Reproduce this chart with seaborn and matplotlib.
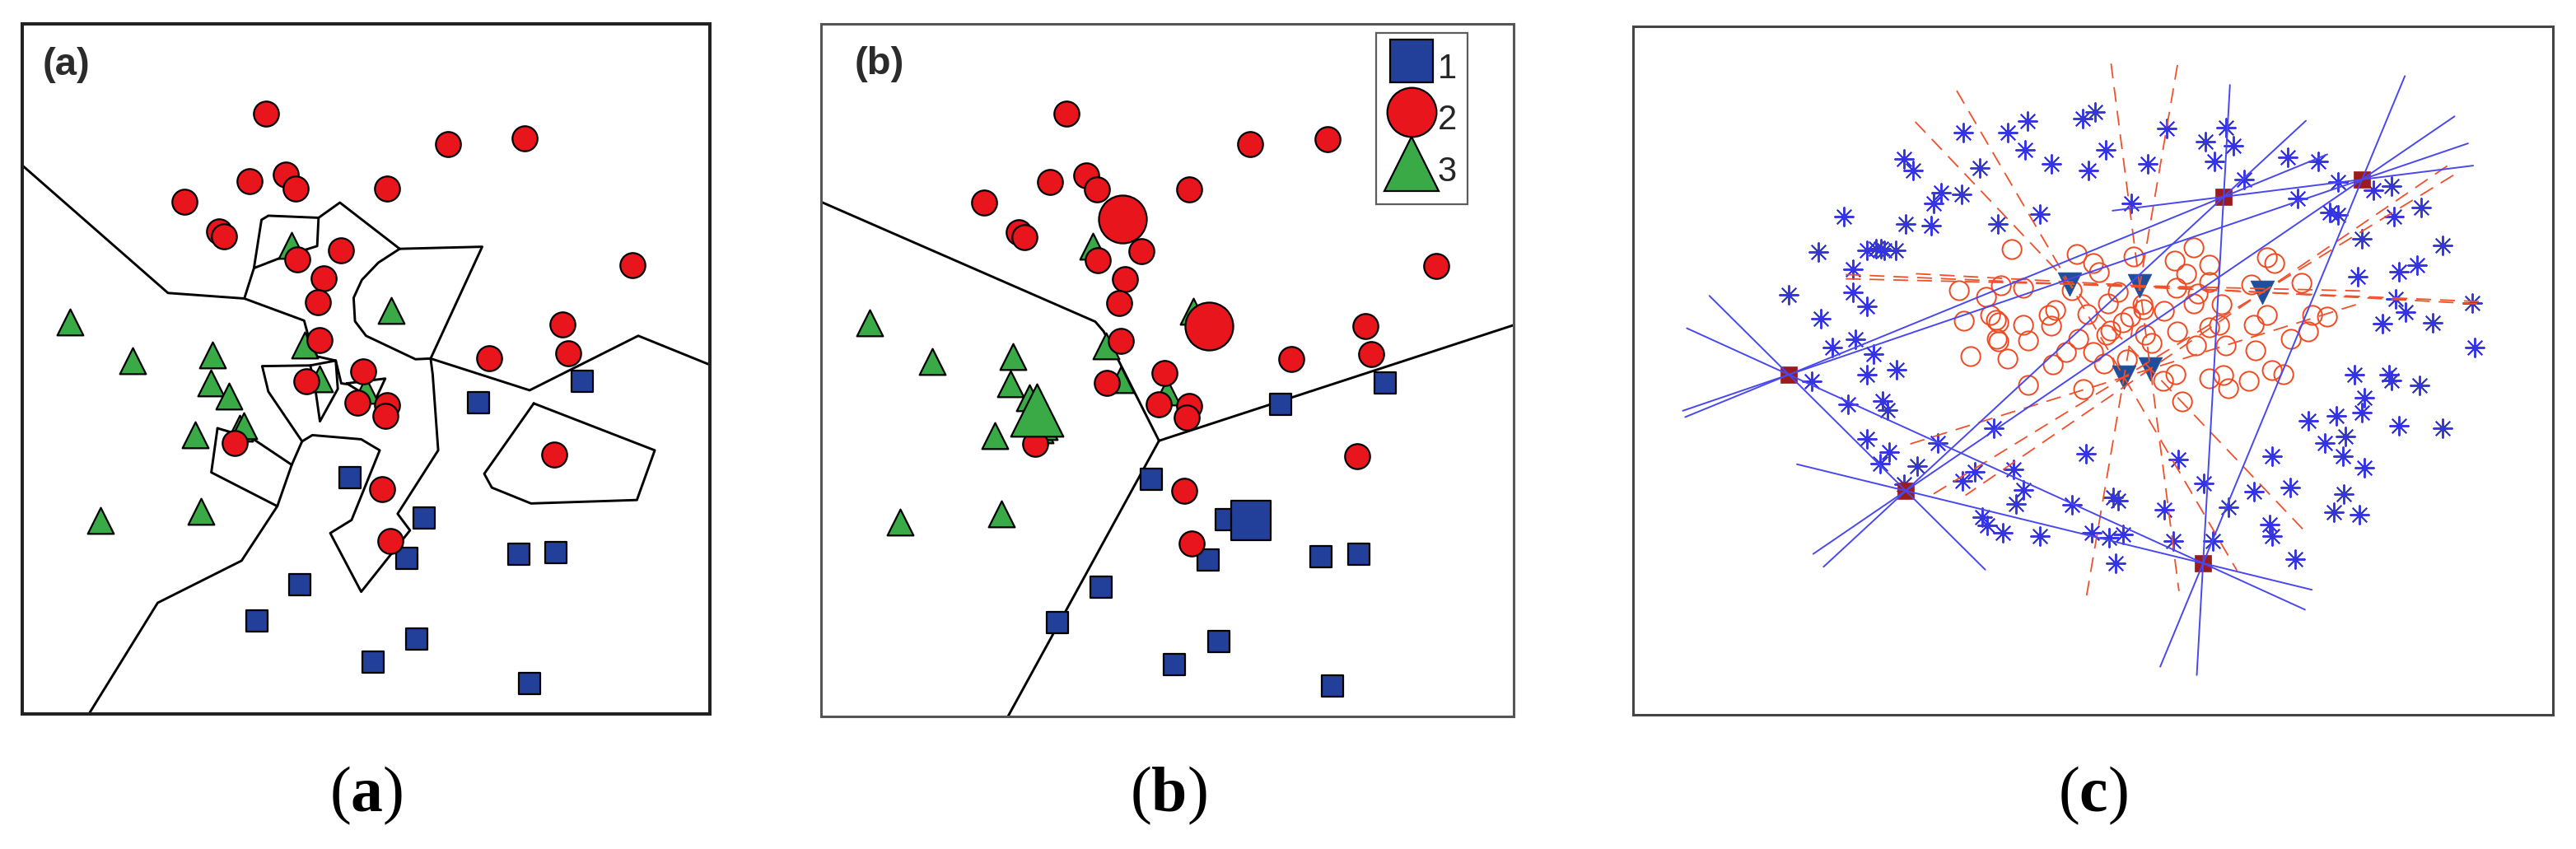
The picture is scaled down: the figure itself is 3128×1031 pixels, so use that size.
import itertools
import numpy as np
import matplotlib.pyplot as plt
from matplotlib.lines import Line2D
import seaborn as sns

sns.set_style("white")
plt.rcParams["font.family"] = ["Liberation Sans", "DejaVu Sans"]
plt.rcParams["mathtext.fontset"] = "custom"
plt.rcParams["mathtext.rm"] = "Liberation Serif"
plt.rcParams["mathtext.bf"] = "Liberation Serif:bold"

# ---------------- panels (a) and (b): one 3-class data set, box units 0..100
klasa1_x = [81.5, 66.4, 47.7, 58.5, 55.9, 72.2, 77.6, 40.4, 34.1, 57.4, 51.0, 73.8]
klasa1_y = [48.2, 45.1, 34.2, 28.4, 22.6, 23.1, 23.4, 18.7, 13.5, 10.8, 7.5, 4.4]

klasa2_x = [35.4, 61.9, 73.1, 33.1, 38.3, 39.8, 53.1, 23.6, 28.6, 29.4, 40.0, 46.3, 88.8, 43.9,
            43.0, 43.3, 78.6, 79.4, 67.9, 49.6, 41.3, 48.8, 53.1, 52.8, 30.9, 77.4, 52.4, 53.5]
klasa2_y = [87.0, 82.6, 83.4, 77.2, 78.1, 76.1, 76.1, 74.2, 69.9, 69.2, 65.9, 67.2, 65.0, 63.1,
            59.7, 54.2, 56.4, 52.3, 51.6, 49.6, 48.2, 45.1, 44.8, 43.2, 39.3, 37.6, 32.6, 25.0]

klasa3_x = [7.0, 16.1, 27.7, 27.4, 30.1, 25.1, 31.6, 32.2, 11.4, 26.0, 39.2, 53.7, 41.1, 43.3, 49.9]
klasa3_y = [56.8, 51.2, 52.0, 48.0, 46.0, 40.5, 41.4, 41.8, 28.0, 29.3, 67.9, 58.5, 53.5, 48.6, 46.9]

# prototypy w (b)
proto1_x, proto1_y = [62.1], [28.3]
proto2_x, proto2_y = [43.5, 56.0], [71.8, 56.3]
proto3_x, proto3_y = [31.2], [44.2]

# granice decyzyjne (a)
granice_a = [
    [(0, 79.5), (21.2, 61.0), (32.3, 60.2), (41.0, 57.0), (41.6, 54.8), (42.9, 51.8),
     (45.6, 51.2), (46.4, 47.9), (47.2, 47.8)],
    [(47.2, 47.9), (52.8, 48.6), (51.3, 45.4), (47.2, 47.9)],
    [(32.3, 60.2), (33.7, 64.6), (34.8, 71.6), (35.8, 72.2), (43.1, 71.9), (42.9, 67.8),
     (38.1, 66.3), (33.7, 64.6)],
    [(43.1, 71.9), (46.2, 74.1), (54.9, 67.4), (66.9, 67.7), (59.4, 51.5), (57.2, 51.4),
     (50.0, 54.8), (48.4, 56.9), (48.2, 60.3), (49.4, 62.9), (51.8, 65.4), (54.9, 67.4)],
    [(59.4, 51.5), (73.8, 46.9), (89.6, 54.8), (100, 50.6)],
    [(59.4, 51.5), (59.7, 49.2), (60.5, 38.2), (54.6, 29.0), (56.4, 26.6), (49.3, 17.7),
     (44.8, 26.2), (47.9, 28.1), (52.0, 38.2), (49.3, 39.8), (42.2, 40.4), (40.7, 39.5)],
    [(40.7, 39.5), (39.2, 36.1), (37.1, 30.1), (31.9, 22.2), (19.7, 16.1), (9.7, 0)],
    [(28.4, 41.4), (27.5, 35.0), (37.1, 30.1)],
    [(28.4, 41.4), (33.5, 39.9), (39.2, 36.1)],
    [(40.7, 39.5), (35.8, 46.7), (34.9, 50.4), (41.9, 50.5), (45.6, 51.2)],
    [(45.6, 51.2), (45.9, 47.1), (43.3, 42.4), (42.5, 48.0), (41.9, 50.5)],
    [(74.4, 45.0), (92.0, 38.2), (89.4, 31.0), (74.0, 30.5), (68.3, 32.8), (67.2, 34.8), (74.4, 45.0)],
]

# granice decyzyjne (b)
granice_b = [
    [(0, 74.3), (39.6, 57.0), (40.8, 55.6), (42.7, 51.9), (48.8, 39.8)],
    [(48.8, 39.8), (100, 56.5)],
    [(48.8, 39.8), (27.0, 0)],
]

# ---------------- panel (c): units = pixels of the box (1117 x 836)
gwiazdki_x = [401, 455, 479, 546, 561, 476, 508, 553, 574, 329, 340, 421, 374, 365, 399, 256,
              331, 362, 443, 494, 605, 225, 284, 295, 301, 305, 319, 267, 189, 267, 284, 228,
              270, 242, 292, 284, 320, 217, 261, 303, 309, 284, 311, 300, 345, 370, 438, 415,
              400, 462, 474, 465, 424, 430, 449, 494, 533, 550, 583, 589, 557, 578, 595, 586,
              329,
              648, 720, 695, 729, 706, 625, 795, 832, 742, 807, 856, 899, 921, 846, 856, 924,
              957, 885, 983, 880, 930, 952, 926, 938, 910, 971, 1019, 1022, 876, 918, 921, 955,
              888, 885, 820, 854, 930, 983, 840, 865, 862, 888, 776, 662, 693, 754, 798, 863,
              851, 882, 645, 723, 773, 776, 656, 704, 804]
gwiazdki_y = [707, 707, 721, 724, 732, 686, 669, 661, 686, 675, 661, 664, 634, 621, 632, 605,
              596, 594, 596, 608, 621, 562, 564, 566, 566, 564, 564, 541, 510, 513, 496, 481,
              456, 446, 438, 413, 419, 405, 377, 381, 370, 335, 319, 305, 302, 330, 348, 295,
              284, 298, 273, 256, 240, 230, 221, 217, 255, 317, 264, 260, 221, 215, 219, 184,
              280,
              712, 713, 696, 691, 672, 669, 677, 672, 650, 627, 647, 637, 642, 610, 607, 605,
              616, 578, 570, 532, 538, 546, 505, 489, 475, 476, 500, 446, 413, 413, 406, 400,
              385, 367, 357, 363, 351, 348, 330, 338, 314, 300, 314, 310, 281, 271, 276, 268,
              246, 243, 249, 252, 231, 217, 211, 211, 189]

kolka_x = [460, 539, 559, 566, 608, 681, 658, 700, 672, 700, 770, 779, 751, 812, 396, 429,
           447, 474, 533, 589, 577, 660, 686, 681, 715, 619, 620, 645, 552, 505, 513, 402,
           434, 441, 444, 474, 508, 442, 444, 480, 410, 455, 541, 575, 595, 604, 622, 630,
           661, 700, 712, 754, 770, 825, 843, 799, 820, 720, 684, 756, 526, 559, 510, 572,
           600, 659, 644, 700, 717, 723, 748, 776, 790, 480, 547, 667, 580]
kolka_y = [565, 559, 548, 537, 556, 567, 551, 546, 535, 525, 555, 548, 522, 524, 515, 507,
           521, 518, 515, 513, 499, 518, 511, 499, 498, 498, 492, 490, 486, 485, 491, 478,
           485, 479, 476, 473, 472, 456, 453, 454, 435, 432, 456, 461, 476, 483, 461, 451,
           465, 470, 473, 473, 485, 485, 483, 456, 465, 448, 448, 442, 440, 440, 425, 426,
           431, 413, 405, 408, 412, 396, 405, 418, 413, 400, 395, 380, 466]

kwadraty_x = [189, 331, 692, 717, 885]
kwadraty_y = [413, 272, 184, 629, 650]

trojkaty_x = [530, 615, 764, 596, 628]
trojkaty_y = [523, 521, 513, 410, 420]

NIEBIESKI_PRZEDLUZENIE = 136
CZERWONY_PRZEDLUZENIE = 272


def odcinki(xs, ys, ext):
    # proste przez kazda pare punktow, przedluzone o ext po obu stronach
    out = []
    for i, j in itertools.combinations(range(len(xs)), 2):
        p = np.array([xs[i], ys[i]], float)
        q = np.array([xs[j], ys[j]], float)
        d = (q - p) / np.linalg.norm(q - p)
        a, b = p - ext * d, q + ext * d
        out.append(([a[0], b[0]], [a[1], b[1]]))
    return out


CZERWONY = "#e8161c"
NIEBIESKI = "#22409a"
ZIELONY = "#3aaa47"

fig = plt.figure(figsize=(31.28, 10.31), dpi=100)
ax_a = fig.add_axes([0.00863, 0.1591, 0.2669, 0.8128])
ax_b = fig.add_axes([0.3187, 0.1562, 0.2689, 0.8157])
ax_c = fig.add_axes([0.6340, 0.1581, 0.3571, 0.8109])


def punkty(ax, big=False):
    sns.scatterplot(x=klasa1_x, y=klasa1_y, marker="s", s=340, color=NIEBIESKI,
                    edgecolor="black", linewidth=1.6, ax=ax, zorder=3)
    sns.scatterplot(x=klasa3_x, y=klasa3_y, marker="^", s=520, color=ZIELONY,
                    edgecolor="black", linewidth=1.6, ax=ax, zorder=3)
    sns.scatterplot(x=klasa2_x, y=klasa2_y, marker="o", s=480, color=CZERWONY,
                    edgecolor="black", linewidth=1.6, ax=ax, zorder=3)
    if big:
        sns.scatterplot(x=proto1_x, y=proto1_y, marker="s", s=1150, color=NIEBIESKI,
                        edgecolor="black", linewidth=1.6, ax=ax, zorder=4)
        sns.scatterplot(x=proto2_x, y=proto2_y, marker="o", s=1750, color=CZERWONY,
                        edgecolor="black", linewidth=1.6, ax=ax, zorder=4)
        sns.scatterplot(x=proto3_x, y=proto3_y, marker="^", s=2100, color=ZIELONY,
                        edgecolor="black", linewidth=1.6, ax=ax, zorder=4)


# (a)
for linia in granice_a:
    xs, ys = zip(*linia)
    ax_a.plot(xs, ys, color="black", lw=2.1, zorder=2)
punkty(ax_a)
ax_a.text(3.0, 94.0, "(a)", fontsize=34, fontweight="bold", color="#2b2b2b",
          va="center", ha="left")

# (b)
for linia in granice_b:
    xs, ys = zip(*linia)
    ax_b.plot(xs, ys, color="black", lw=2.1, zorder=2)
punkty(ax_b, big=True)
ax_b.text(4.8, 94.2, "(b)", fontsize=34, fontweight="bold", color="#2b2b2b",
          va="center", ha="left")
uchwyty = [
    Line2D([], [], ls="none", marker="s", ms=37, mfc=NIEBIESKI, mec="black", mew=1.6),
    Line2D([], [], ls="none", marker="o", ms=43, mfc=CZERWONY, mec="black", mew=1.6),
    Line2D([], [], ls="none", marker="^", ms=48, mfc=ZIELONY, mec="black", mew=1.6),
]
leg = ax_b.legend(uchwyty, ["1", "2", "3"], loc="upper right", bbox_to_anchor=(0.933, 0.987),
                  fontsize=30, frameon=True, fancybox=False, handlelength=1.45,
                  handleheight=1.75, handletextpad=0.05, labelspacing=0.12, borderpad=0.3,
                  borderaxespad=0)
leg.get_frame().set_edgecolor("#333333")
leg.get_frame().set_linewidth(1.6)

# (c)
sns.scatterplot(x=gwiazdki_x, y=gwiazdki_y, marker=(8, 2, 0), s=270, color="#3535e0",
                linewidth=1.4, ax=ax_c, zorder=2)
sns.scatterplot(x=kolka_x, y=kolka_y, marker="o", s=280, facecolor="none",
                edgecolor="#f04a22", linewidth=1.4, ax=ax_c, zorder=2)
sns.scatterplot(x=kwadraty_x, y=kwadraty_y, marker="s", s=190, color="#9a1c1c",
                edgecolor="#9a1c1c", linewidth=0.5, ax=ax_c, zorder=3)
sns.scatterplot(x=trojkaty_x, y=trojkaty_y, marker="v", s=430, color="#1f4e9a",
                edgecolor="#1f4e9a", linewidth=0.5, ax=ax_c, zorder=3)
for xs, ys in odcinki(trojkaty_x, trojkaty_y, CZERWONY_PRZEDLUZENIE):
    ax_c.plot(xs, ys, color="#f0502a", lw=1.3, ls=(0, (10, 6)), zorder=4)
for xs, ys in odcinki(kwadraty_x, kwadraty_y, NIEBIESKI_PRZEDLUZENIE):
    ax_c.plot(xs, ys, color="#4848ee", lw=1.4, zorder=5)

for ax, lim_x, lim_y, kolor, grub in [(ax_a, 100, 100, "#222222", 2.9),
                                      (ax_b, 100, 100, "#555555", 2.2),
                                      (ax_c, 1117, 836, "#444444", 2.2)]:
    ax.set_xlim(0, lim_x)
    ax.set_ylim(0, lim_y)
    ax.set_xticks([])
    ax.set_yticks([])
    ax.set_xlabel("")
    ax.set_ylabel("")
    for sp in ax.spines.values():
        sp.set_visible(True)
        sp.set_color(kolor)
        sp.set_linewidth(grub)

for xc, lab in [(0.1421, "a"), (0.4536, "b"), (0.8124, "c")]:
    fig.text(xc, 0.063, r"$\mathrm{(}\mathbf{" + lab + r"}\mathrm{)}$", fontsize=56,
             ha="center", va="center", color="black")

fig.savefig("out.png", dpi=100, facecolor="white")
plt.close(fig)
